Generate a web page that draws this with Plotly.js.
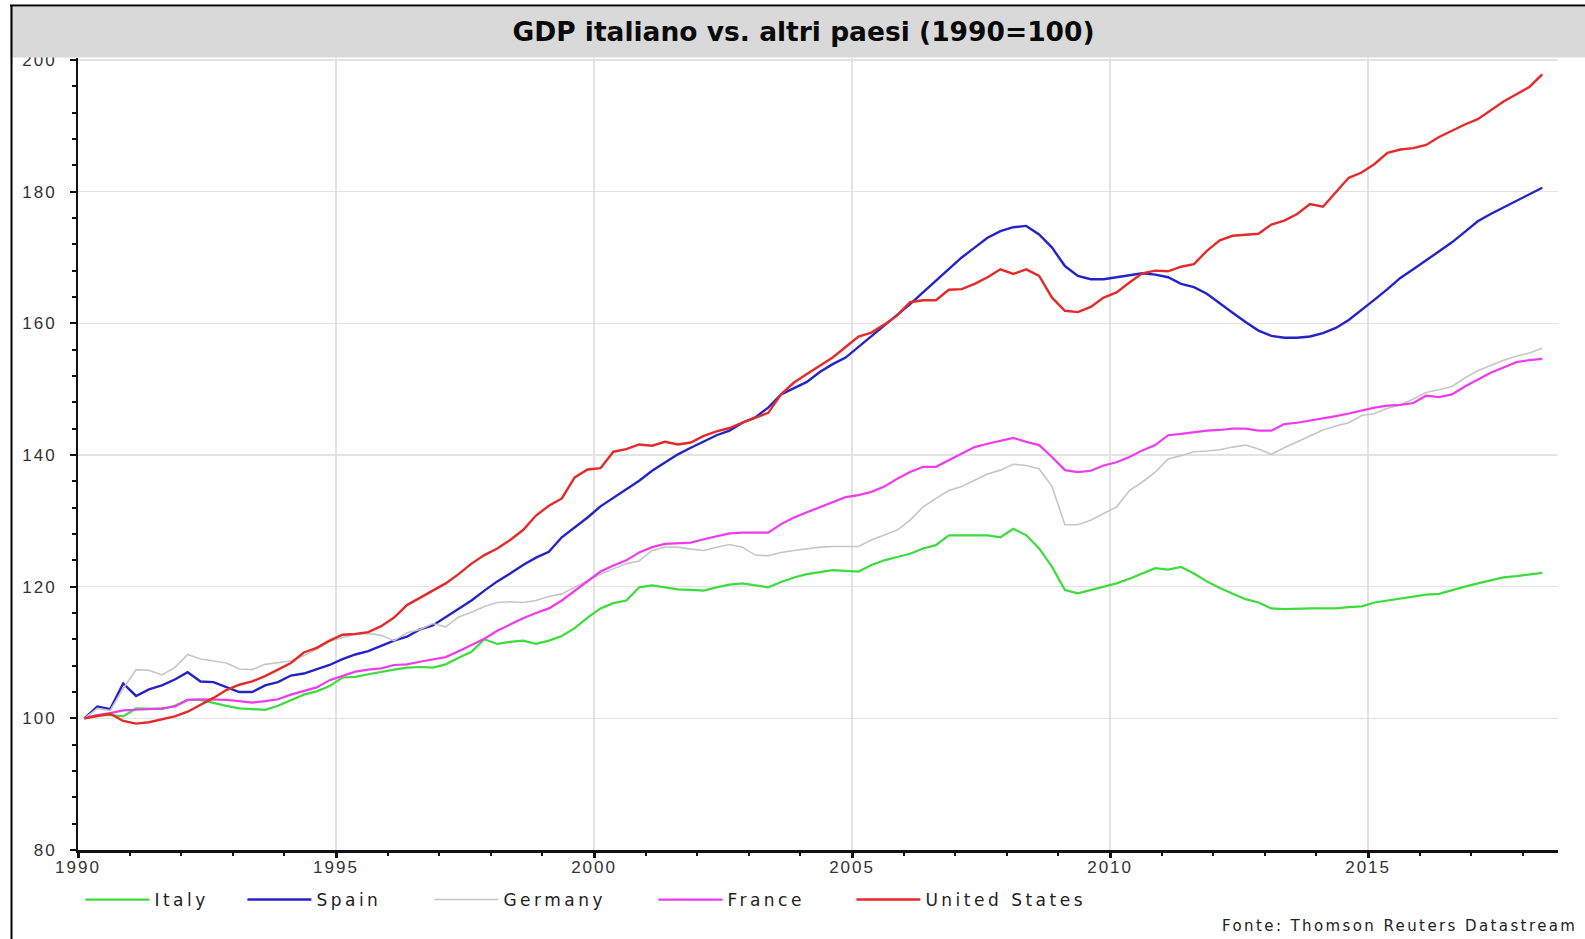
<!DOCTYPE html>
<html>
<head>
<meta charset="utf-8">
<script src="https://cdn.plot.ly/plotly-3.0.1.min.js"></script>
<style>
html,body{margin:0;padding:0;background:#fff;}
#chart{width:1585px;height:939px;}
.xtick text,.ytick text{letter-spacing:2px;}
</style>
</head>
<body>
<div id="chart"></div>
<script>
// Quarterly observations, 1990 Q1 .. 2018 Q2 (plotted at mid-quarter)
const firstQuarterMid = 1990.125;
const quarterStep = 0.25;

const seriesNames = ["Italy", "Spain", "Germany", "France", "United States"];

const italy = [
100.0,100.5,100.5,100.3,101.5,101.5,101.4,101.9,102.8,102.8,
102.3,101.9,101.5,101.4,101.3,101.9,102.8,103.6,104.1,104.9,
106.2,106.3,106.7,107.1,107.4,107.7,107.8,107.7,108.2,109.2,
110.1,112.0,111.3,111.6,111.8,111.3,111.8,112.5,113.7,115.3,
116.7,117.5,117.9,119.9,120.2,119.9,119.6,119.5,119.4,119.9,
120.3,120.5,120.2,119.9,120.7,121.4,121.9,122.2,122.5,122.4,
122.3,123.3,124.0,124.5,125.0,125.8,126.3,127.8,127.8,127.8,
127.8,127.5,128.8,127.8,125.8,123.0,119.5,119.0,119.5,120.0,
120.5,121.2,122.0,122.8,122.6,123.0,122.0,120.8,119.8,118.9,
118.1,117.6,116.7,116.6,116.7,116.7,116.7,116.7,116.9,117.0,
117.6,117.9,118.3,118.6,118.8,118.9,119.5,120.0,120.5,121.0,
121.4,121.6,121.9,122.1];

const spain = [
100.0,101.8,101.4,105.3,103.4,104.4,105.0,105.9,107.0,105.6,
105.5,104.8,104.0,104.0,105.0,105.5,106.5,106.8,107.5,108.1,
109.0,109.7,110.2,111.0,111.8,112.4,113.5,114.1,115.4,116.6,
117.9,119.4,120.8,122.0,123.3,124.4,125.3,127.5,129.0,130.5,
132.2,133.5,134.8,136.1,137.6,138.8,140.1,141.1,142.1,143.0,
143.7,144.9,145.7,147.2,149.2,150.2,151.1,152.6,153.8,154.8,
156.4,158.1,159.6,161.2,162.9,164.7,166.5,168.2,170.0,171.5,
173.0,174.0,174.6,174.8,173.5,171.5,168.7,167.2,166.7,166.7,
167.0,167.4,167.6,167.4,167.0,166.0,165.5,164.5,163.0,161.6,
160.2,158.9,158.1,157.8,157.8,158.0,158.5,159.3,160.5,162.0,
163.6,165.2,166.9,168.2,169.6,170.9,172.3,173.9,175.5,176.6,
177.6,178.7,179.7,180.6];

const germany = [
100.0,101.5,101.2,104.5,107.4,107.3,106.6,107.7,109.7,109.0,
108.7,108.4,107.5,107.4,108.2,108.4,108.7,109.5,110.5,111.7,
112.2,112.8,112.9,112.6,111.8,113.0,113.5,114.4,113.9,115.4,
116.1,117.0,117.6,117.7,117.6,117.9,118.5,118.9,119.9,120.9,
121.9,122.7,123.5,123.9,125.5,126.0,126.0,125.7,125.5,126.0,
126.4,126.0,124.8,124.7,125.2,125.5,125.8,126.0,126.1,126.1,
126.1,127.1,127.8,128.6,130.1,132.1,133.4,134.6,135.2,136.1,
137.1,137.7,138.6,138.4,137.9,135.2,129.4,129.4,130.1,131.1,
132.1,134.6,135.9,137.4,139.4,139.9,140.5,140.6,140.8,141.2,
141.5,140.9,140.1,141.1,142.0,142.8,143.8,144.4,144.9,146.0,
146.3,147.1,147.6,148.5,149.5,149.9,150.4,151.7,152.8,153.6,
154.4,155.0,155.5,156.2];

const france = [
100.0,100.5,100.8,101.2,101.3,101.4,101.5,101.8,102.8,102.9,
102.9,102.8,102.6,102.4,102.6,102.9,103.6,104.1,104.7,105.8,
106.5,107.1,107.4,107.6,108.1,108.2,108.6,109.0,109.3,110.2,
111.1,112.1,113.3,114.3,115.2,116.0,116.7,117.9,119.4,120.9,
122.3,123.2,124.0,125.2,126.0,126.5,126.6,126.7,127.2,127.7,
128.1,128.2,128.2,128.2,129.5,130.5,131.3,132.1,132.9,133.6,
133.9,134.4,135.2,136.4,137.4,138.2,138.2,139.2,140.2,141.2,
141.7,142.1,142.6,142.0,141.5,139.7,137.7,137.4,137.6,138.4,
138.9,139.7,140.7,141.5,143.0,143.2,143.5,143.7,143.8,144.0,
144.0,143.7,143.7,144.7,144.9,145.2,145.5,145.9,146.3,146.8,
147.2,147.5,147.6,147.9,149.0,148.8,149.2,150.4,151.4,152.5,
153.3,154.1,154.4,154.6];

const unitedStates = [
100.0,100.4,100.7,99.6,99.2,99.4,99.8,100.3,101.0,102.0,
103.1,104.3,105.1,105.6,106.4,107.4,108.4,110.0,110.7,111.8,
112.7,112.8,113.1,114.0,115.3,117.2,118.3,119.3,120.5,121.9,
123.5,124.8,125.8,127.1,128.6,130.8,132.3,133.4,136.6,137.8,
138.0,140.5,140.9,141.6,141.4,142.0,141.6,141.9,142.9,143.6,
144.1,144.9,145.6,146.4,149.2,151.0,152.3,153.6,154.8,156.4,
158.0,158.6,159.8,161.2,163.2,163.5,163.5,165.1,165.2,166.0,
167.0,168.2,167.5,168.2,167.2,163.9,161.9,161.7,162.5,163.9,
164.7,166.2,167.6,168.0,167.9,168.6,169.0,171.0,172.6,173.3,
173.4,173.6,175.0,175.6,176.6,178.1,177.7,179.9,182.1,182.9,
184.2,185.9,186.4,186.6,187.1,188.3,189.3,190.2,191.0,192.4,
193.7,194.8,195.9,197.8];

const xTickLabels = ["1990", "1995", "2000", "2005", "2010", "2015"];
const xTickValues = [1990, 1995, 2000, 2005, 2010, 2015];
const yTickValues = [80, 100, 120, 140, 160, 180, 200];
const yTickLabels = ["80", "100", "120", "140", "160", "180", "200"];

const quarters = italy.map((_, i) => firstQuarterMid + quarterStep * i);

const allValues = [italy, spain, germany, france, unitedStates];
const colors = ["#3ddc3d", "#2323c8", "#c6c6c6", "#ee3bee", "#e52a2a"];
const widths = [2.2, 2.4, 1.6, 2.2, 2.4];
const legendIds = ["legend", "legend2", "legend3", "legend4", "legend5"];
// left edge (px) of each legend box
const legendLeftPx = [80.4, 242.4, 429.4, 653.4, 851.4];

const traces = allValues.map((vals, k) => ({
  type: "scatter",
  mode: "lines",
  name: '<span style="letter-spacing:3.5px">' + seriesNames[k] + '</span>',
  x: quarters,
  y: vals,
  line: {color: colors[k], width: widths[k]},
  legend: legendIds[k],
  hoverinfo: "skip"
}));

// paper-coordinate helpers (plot area: x 78..1558 px, y 58..850 px)
const PL = 78, PR = 1558, PT = 58, PB = 850;
const px = v => (v - PL) / (PR - PL);
const py = v => (PB - v) / (PB - PT);

const legendFont = {family: "DejaVu Sans, Verdana, sans-serif", size: 17, color: "#222"};

const layout = {
  width: 1585,
  height: 939,
  paper_bgcolor: "#ffffff",
  plot_bgcolor: "#ffffff",
  margin: {l: PL, r: 1585 - PR, t: PT, b: 939 - PB, pad: 0},
  title: {
    text: "<b>GDP italiano vs. altri paesi (1990=100)</b>",
    x: 803.5 / 1585, xanchor: "center", xref: "container",
    y: 1 - 32 / 939, yanchor: "middle", yref: "container",
    font: {family: "DejaVu Sans, Verdana, sans-serif", size: 26.5, color: "#0a0a0a"}
  },
  xaxis: {
    range: [1990, 2018.68],
    autorange: false,
    tickmode: "array",
    tickvals: xTickValues,
    ticktext: xTickLabels,
    showgrid: true,
    gridcolor: "#e3e3e3",
    gridwidth: 1.5,
    zeroline: false,
    showline: true,
    linecolor: "#111",
    linewidth: 3,
    ticks: "outside",
    ticklen: 5,
    tickwidth: 3,
    tickcolor: "#111",
    ticklabelstandoff: -5,
    minor: {dtick: 1, tick0: 1990, ticks: "outside", ticklen: 3, tickwidth: 2, tickcolor: "#111", showgrid: false},
    tickfont: {family: "Liberation Sans, Arial, sans-serif", size: 17, color: "#333"},
    fixedrange: true
  },
  yaxis: {
    range: [80, 200.3],
    autorange: false,
    tickmode: "array",
    tickvals: yTickValues,
    ticktext: yTickLabels,
    showgrid: true,
    gridcolor: "#e3e3e3",
    gridwidth: 1.5,
    zeroline: false,
    showline: true,
    linecolor: "#111",
    linewidth: 2,
    ticks: "outside",
    ticklen: 6,
    tickwidth: 2,
    tickcolor: "#111",
    ticklabelstandoff: 10,
    minor: {dtick: 4, tick0: 80, ticks: "outside", ticklen: 4, tickwidth: 2, tickcolor: "#111", showgrid: false},
    tickfont: {family: "Liberation Sans, Arial, sans-serif", size: 17, color: "#333"},
    fixedrange: true
  },
  showlegend: true,
  shapes: [
    {type: "rect", xref: "paper", yref: "paper", layer: "above",
     x0: px(10), x1: px(1585), y0: py(57.5), y1: py(7),
     fillcolor: "#d9d9d9", line: {width: 0}},
    {type: "line", xref: "paper", yref: "paper", layer: "above",
     x0: px(10), x1: px(1585), y0: py(5.5), y1: py(5.5),
     line: {color: "#000", width: 2}},
    {type: "line", xref: "paper", yref: "paper", layer: "above",
     x0: px(11.5), x1: px(11.5), y0: py(939), y1: py(5.5),
     line: {color: "#000", width: 2}}
  ],
  annotations: [
    {xref: "paper", yref: "paper", x: px(1579), y: py(926),
     xanchor: "right", yanchor: "middle", showarrow: false,
     text: '<span style="letter-spacing:2.4px">Fonte: Thomson Reuters Datastream</span>',
     font: {family: "DejaVu Sans, Verdana, sans-serif", size: 15, color: "#222"}}
  ]
};

legendIds.forEach((id, k) => {
  layout[id] = {
    orientation: "h",
    x: px(legendLeftPx[k]), xanchor: "left",
    y: py(900), yanchor: "middle",
    bgcolor: "rgba(0,0,0,0)",
    borderwidth: 0,
    itemwidth: 64,
    font: legendFont
  };
});

Plotly.newPlot("chart", traces, layout, {staticPlot: true, displayModeBar: false});
</script>
</body>
</html>
